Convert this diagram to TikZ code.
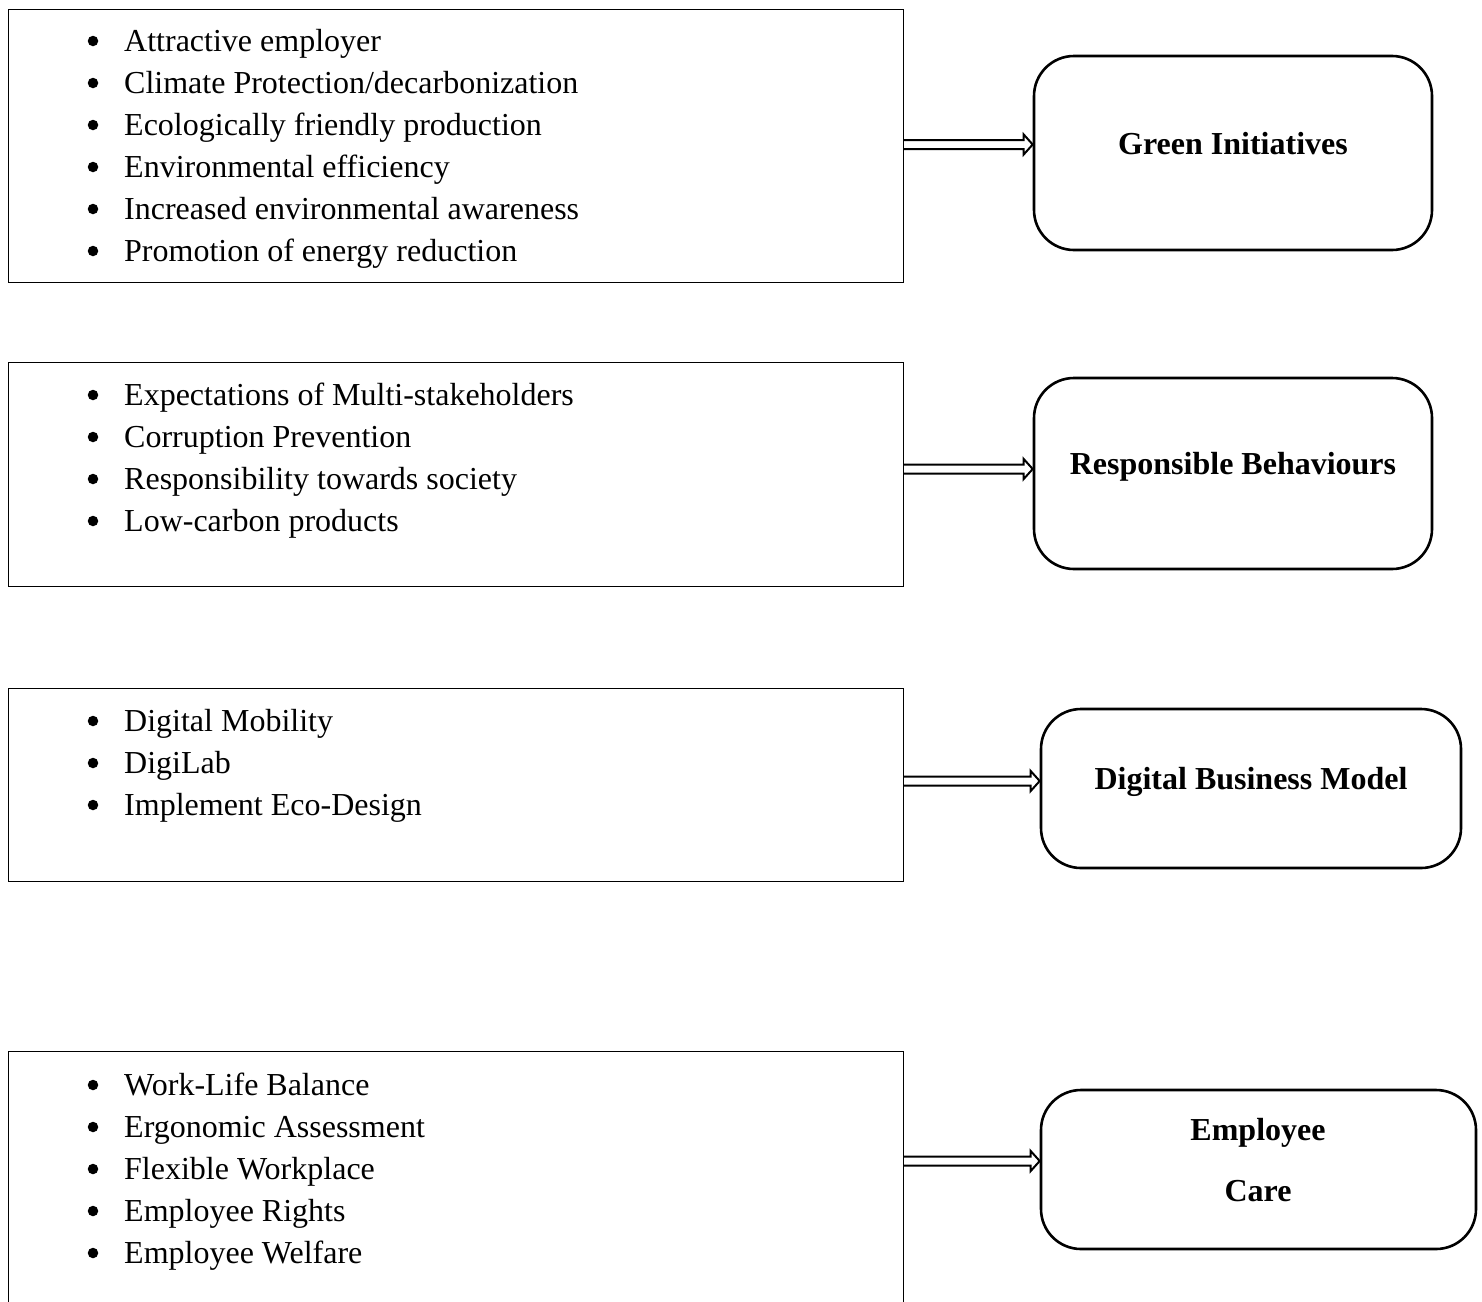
\documentclass[tikz,border=0pt]{standalone}
\usepackage{fontspec}
\setmainfont{Liberation Serif}
\usetikzlibrary{calc}
\begin{document}
\begin{tikzpicture}[x=1pt,y=-1pt,
  listbox/.style={draw, line width=1.3pt, minimum width=895pt, inner sep=0pt, anchor=north west},
  headbox/.style={draw, line width=2.6pt, rounded corners=40pt, inner sep=0pt},
  headtxt/.style={anchor=base, inner sep=0pt, font=\fontsize{32}{42}\selectfont\bfseries},
  itm/.style={anchor=base west, inner sep=0pt, font=\fontsize{32}{42}\selectfont},
  bul/.style={circle, fill, inner sep=0pt, minimum size=10.5pt},
  blk/.style={draw, line width=2pt, line join=miter}
]
\useasboundingbox (0,0) rectangle (1482,1301);
\clip (0,0) rectangle (1482,1301);

% list boxes
\node[listbox, minimum height=273pt] (b1) at (8,9) {};
\node[listbox, minimum height=224pt] (b2) at (8,362) {};
\node[listbox, minimum height=193pt] (b3) at (8,688) {};
\node[listbox, minimum height=300pt] (b4) at (8,1051) {};

% heading boxes
\node[headbox, minimum width=398pt, minimum height=194pt] (r1) at (1233,153) {};
\node[headbox, minimum width=398pt, minimum height=191pt] (r2) at (1233,473.5) {};
\node[headbox, minimum width=420pt, minimum height=159pt] (r3) at (1251,788.5) {};
\node[headbox, minimum width=435pt, minimum height=159pt] (r4) at (1258.5,1169.5) {};
\node[headtxt] (r1t) at (1233,154) {Green Initiatives};
\node[headtxt] (r2t) at (1233,474) {Responsible Behaviours};
\node[headtxt] (r3t) at (1251,789) {Digital Business Model};
\node[headtxt] (r4a) at (1258,1140) {Employee};
\node[headtxt] (r4b) at (1258,1201) {Care};

% bullets and items
\foreach \y/\t [count=\i] in {41/Attractive employer, 83/Climate Protection\slash decarbonization, 125/Ecologically friendly production, 167/Environmental efficiency, 209/Increased environmental awareness, 251/Promotion of energy reduction}{
  \node[bul] (p1b\i) at (93,\y) {};
  \node[itm] (p1t\i) at (124,\y+10) {\t};
}
\foreach \y/\t [count=\i] in {395/Expectations of Multi-stakeholders, 437/Corruption Prevention, 479/Responsibility towards society, 521/Low-carbon products}{
  \node[bul] (p2b\i) at (93,\y) {};
  \node[itm] (p2t\i) at (124,\y+10) {\t};
}
\foreach \y/\t [count=\i] in {721/Digital Mobility, 763/DigiLab, 805/Implement Eco-Design}{
  \node[bul] (p3b\i) at (93,\y) {};
  \node[itm] (p3t\i) at (124,\y+10) {\t};
}
\foreach \y/\t [count=\i] in {1085/Work-Life Balance, 1127/Ergonomic Assessment, 1169/Flexible Workplace, 1211/Employee Rights, 1253/Employee Welfare}{
  \node[bul] (p4b\i) at (93,\y) {};
  \node[itm] (p4t\i) at (124,\y+10) {\t};
}

% arrows
\coordinate (a1) at (903,144.5);
\coordinate (a2) at (903,469);
\coordinate (a3) at (903,781);
\coordinate (a4) at (903,1161);
\foreach \k in {1,2,3,4}{
  \coordinate (e\k) at (a\k -| r\k.west);
  \draw[blk] ($(a\k)+(0,-4.5)$) -- ($(e\k)+(-9,-4.5)$) -- ($(e\k)+(-9,-10)$) -- (e\k)
    -- ($(e\k)+(-9,10)$) -- ($(e\k)+(-9,4.5)$) -- ($(a\k)+(0,4.5)$);
}
\end{tikzpicture}
\end{document}
